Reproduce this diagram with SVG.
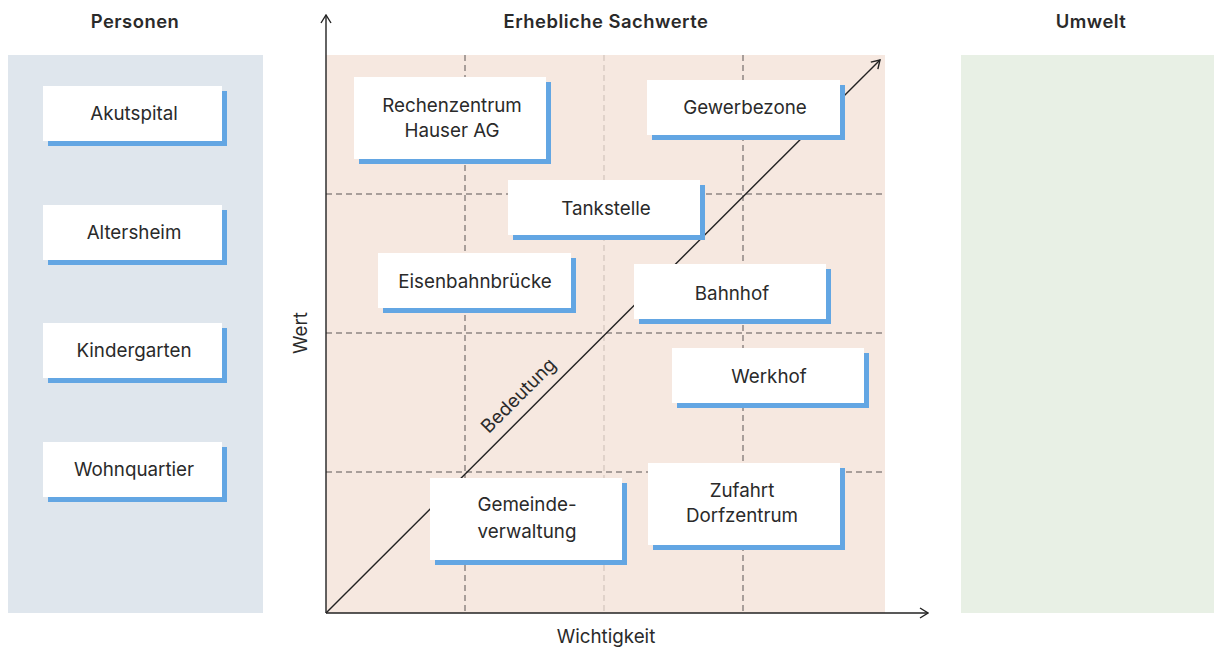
<svg xmlns="http://www.w3.org/2000/svg" width="1214" height="647" viewBox="0 0 1214 647">
<defs>
<style>
text{font-family:Inter,"Noto Sans","Liberation Sans",sans-serif;fill:#2a2a2a}
.t{font-size:18.4px;font-weight:600;text-anchor:middle;letter-spacing:0.5px}
.l{font-size:18.8px;text-anchor:middle}
.sh{fill:#63a6e3}
.bx{fill:#ffffff}
.g{stroke:#5a5454;stroke-width:1;stroke-dasharray:6 4;fill:none}
.gl{stroke:#cbbdb5;stroke-width:1;stroke-dasharray:6 4;fill:none}
.ax{stroke:#222;stroke-width:1.4;fill:none}
</style>
<marker id="arr" viewBox="0 0 12 12" refX="11" refY="6" markerWidth="12" markerHeight="12" markerUnits="userSpaceOnUse" orient="auto">
<path d="M3,1 L11,6 L3,11" fill="none" stroke="#222" stroke-width="1.4"/>
</marker>
</defs>
<rect width="1214" height="647" fill="#ffffff"/>
<g id="panels">
<rect x="8" y="55" width="255" height="558" fill="#dfe6ed"/>
<rect x="326" y="55" width="559" height="558" fill="#f6e8e0"/>
<rect x="961" y="55" width="253" height="558" fill="#e8f0e5"/>
<text class="t" x="135" y="28">Personen</text>
<text class="t" x="606" y="28">Erhebliche Sachwerte</text>
<text class="t" x="1091" y="28">Umwelt</text>
</g>
<g id="connectors">
<line class="g" x1="465" y1="55" x2="465" y2="613"/>
<line class="gl" x1="604" y1="55" x2="604" y2="613"/>
<line class="g" x1="743" y1="55" x2="743" y2="613"/>
<line class="g" x1="326" y1="194" x2="885" y2="194"/>
<line class="g" x1="326" y1="333" x2="885" y2="333"/>
<line class="g" x1="326" y1="472" x2="885" y2="472"/>
<line class="ax" x1="326" y1="613" x2="326" y2="15" marker-end="url(#arr)"/>
<line class="ax" x1="326" y1="613" x2="928" y2="613" marker-end="url(#arr)"/>
<line class="ax" x1="326" y1="613" x2="880" y2="60" marker-end="url(#arr)"/>
<text class="l" transform="translate(523,400) rotate(-45)">Bedeutung</text>
<text class="l" transform="translate(307,333) rotate(-90)">Wert</text>
<text class="l" x="606" y="643">Wichtigkeit</text>
</g>
<g id="akutspital"><rect class="sh" x="48" y="91" width="179" height="55"/><rect class="bx" x="43" y="86" width="179" height="55"/><text class="l" x="134" y="120">Akutspital</text></g>
<g id="altersheim"><rect class="sh" x="48" y="210" width="179" height="55"/><rect class="bx" x="43" y="205" width="179" height="55"/><text class="l" x="134" y="239">Altersheim</text></g>
<g id="kindergarten"><rect class="sh" x="48" y="328" width="179" height="55"/><rect class="bx" x="43" y="323" width="179" height="55"/><text class="l" x="134" y="357">Kindergarten</text></g>
<g id="wohnquartier"><rect class="sh" x="48" y="447" width="179" height="55"/><rect class="bx" x="43" y="442" width="179" height="55"/><text class="l" x="134" y="476">Wohnquartier</text></g>
<g id="rechenzentrum"><rect class="sh" x="359" y="82" width="192" height="82"/><rect class="bx" x="354" y="77" width="192" height="82"/><text class="l" x="452" y="112">Rechenzentrum</text><text class="l" x="452" y="137">Hauser AG</text></g>
<g id="gewerbezone"><rect class="sh" x="652" y="85" width="193" height="55"/><rect class="bx" x="647" y="80" width="193" height="55"/><text class="l" x="745" y="114">Gewerbezone</text></g>
<g id="tankstelle"><rect class="sh" x="513" y="185" width="192" height="55"/><rect class="bx" x="508" y="180" width="192" height="55"/><text class="l" x="606" y="215">Tankstelle</text></g>
<g id="eisenbahnbruecke"><rect class="sh" x="383" y="258" width="193" height="55"/><rect class="bx" x="378" y="253" width="193" height="55"/><text class="l" x="475" y="288">Eisenbahnbrücke</text></g>
<g id="bahnhof"><rect class="sh" x="639" y="269" width="192" height="55"/><rect class="bx" x="634" y="264" width="192" height="55"/><text class="l" x="732" y="300">Bahnhof</text></g>
<g id="werkhof"><rect class="sh" x="677" y="353" width="192" height="55"/><rect class="bx" x="672" y="348" width="192" height="55"/><text class="l" x="769" y="383">Werkhof</text></g>
<g id="gemeindeverwaltung"><rect class="sh" x="435" y="483" width="192" height="82"/><rect class="bx" x="430" y="478" width="192" height="82"/><text class="l" x="527" y="511">Gemeinde-</text><text class="l" x="527" y="538">verwaltung</text></g>
<g id="zufahrt"><rect class="sh" x="653" y="468" width="192" height="82"/><rect class="bx" x="648" y="463" width="192" height="82"/><text class="l" x="742" y="497">Zufahrt</text><text class="l" x="742" y="522">Dorfzentrum</text></g>
</svg>
